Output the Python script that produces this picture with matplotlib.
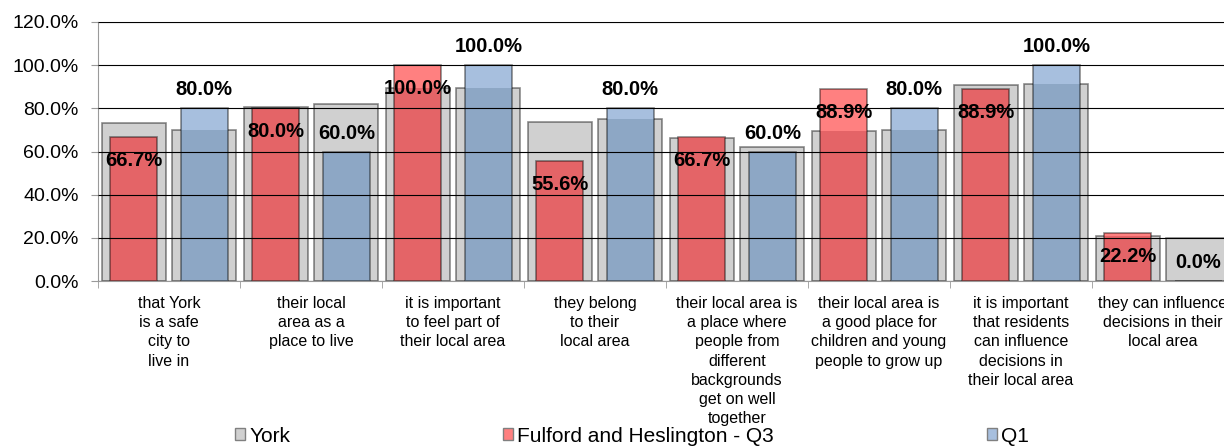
import matplotlib
matplotlib.use("Agg")
import matplotlib.pyplot as plt
import numpy as np
from matplotlib.patches import Patch

plt.rcParams['font.family'] = ['Liberation Sans', 'DejaVu Sans']

# ------------------------- data -------------------------
categories = [
    "that York\nis a safe\ncity to\nlive in",
    "their local\narea as a\nplace to live",
    "it is important\nto feel part of\ntheir local area",
    "they belong\nto their\nlocal area",
    "their local area is\na place where\npeople from\ndifferent\nbackgrounds\nget on well\ntogether",
    "their local area is\na good place for\nchildren and young\npeople to grow up",
    "it is important\nthat residents\ncan influence\ndecisions in\ntheir local area",
    "they can influence\ndecisions in their\nlocal area",
]
york_q3 = [73.3, 80.6, 89.2, 73.5, 66.3, 69.4, 91.0, 21.0]
york_q1 = [69.9, 81.8, 89.2, 75.1, 61.9, 69.9, 91.2, 19.8]
fulford_q3 = [66.7, 80.0, 100.0, 55.6, 66.7, 88.9, 88.9, 22.2]
fulford_q1 = [80.0, 60.0, 100.0, 80.0, 60.0, 80.0, 100.0, 0.0]
yticks = [0, 20, 40, 60, 80, 100, 120]

GREY = '#d0d0d0'
RED_DARK, RED_LIGHT = '#e46467', '#ff8080'
BLUE_DARK, BLUE_LIGHT = '#8da7c5', '#a7bfde'
EDGE = (0, 0, 0, 0.45)

# ------------------------- figure -------------------------
W, H = 1224, 446
fig = plt.figure(figsize=(W / 100, H / 100), dpi=100)
# plot area runs a little past the right edge of the image
ax = fig.add_axes([98 / W, 1 - 281 / H, 1136 / W, 259 / H])

x = np.arange(len(categories))
off = 0.249


def overlay_bar(xpos, vals, york, dark, light):
    """Front bar: darker where it sits over the York bar, lighter above it."""
    vals = np.asarray(vals)
    york = np.asarray(york)
    ax.bar(xpos, np.minimum(vals, york), width=0.333, color=dark, linewidth=0, zorder=2)
    ax.bar(xpos, np.clip(vals - york, 0, None), bottom=york, width=0.333,
           color=light, linewidth=0, zorder=2)
    ax.bar(xpos, vals, width=0.333, fill=False, edgecolor=EDGE, linewidth=1.2, zorder=2)


ax.bar(x - off, york_q3, width=0.45, color=GREY, edgecolor=EDGE, linewidth=1.2, zorder=1)
ax.bar(x + off, york_q1, width=0.45, color=GREY, edgecolor=EDGE, linewidth=1.2, zorder=1)
overlay_bar(x - off, fulford_q3, york_q3, RED_DARK, RED_LIGHT)
overlay_bar(x + off, fulford_q1, york_q1, BLUE_DARK, BLUE_LIGHT)

# value labels: Q3 inside the bar top, Q1 above the bar
for xi, v in zip(x, fulford_q3):
    ax.text(xi - off, v - 13.4, f"{v:.1f}%", ha='center', va='baseline',
            fontsize=14.5, fontweight='bold', zorder=4)
for xi, v in zip(x, fulford_q1):
    ax.text(xi + off, v + 6.0, f"{v:.1f}%", ha='center', va='baseline',
            fontsize=14.5, fontweight='bold', zorder=4)

ax.set_xlim(-0.5, len(categories) - 0.5)
ax.set_ylim(0, 120)
ax.set_yticks(yticks)
ax.set_yticklabels([f"{t:.1f}%" for t in yticks], fontsize=14)
ax.grid(axis='y', color=(0, 0, 0, 0.35), linewidth=0.8, zorder=3)
ax.set_axisbelow(False)

ax.set_xticks(x)
ax.set_xticklabels(categories, fontsize=11.5, va='top', linespacing=1.34)
ax.set_xticks(np.arange(len(categories) + 1) - 0.5, minor=True)
ax.tick_params(axis='x', which='major', length=0, pad=11)
ax.tick_params(axis='x', which='minor', length=5, color='#9a9a9a')
ax.tick_params(axis='y', length=5, color='#9a9a9a', pad=9)

ax.spines['right'].set_visible(False)
for s in ['left', 'bottom', 'top']:
    ax.spines[s].set_color('#9a9a9a')

handles = [
    Patch(facecolor=GREY, edgecolor='#808080', label='York'),
    Patch(facecolor=RED_LIGHT, edgecolor='#808080', label='Fulford and Heslington - Q3'),
    Patch(facecolor=BLUE_LIGHT, edgecolor='#808080', label='Q1'),
]
fig.legend(handles=handles, loc='center', bbox_to_anchor=(632 / W, 1 - 436 / H), ncol=3,
           frameon=False, fontsize=15, handlelength=0.5, handleheight=0.5,
           handletextpad=0.2, columnspacing=10.2, borderpad=0)

fig.savefig("out.png", dpi=100)
